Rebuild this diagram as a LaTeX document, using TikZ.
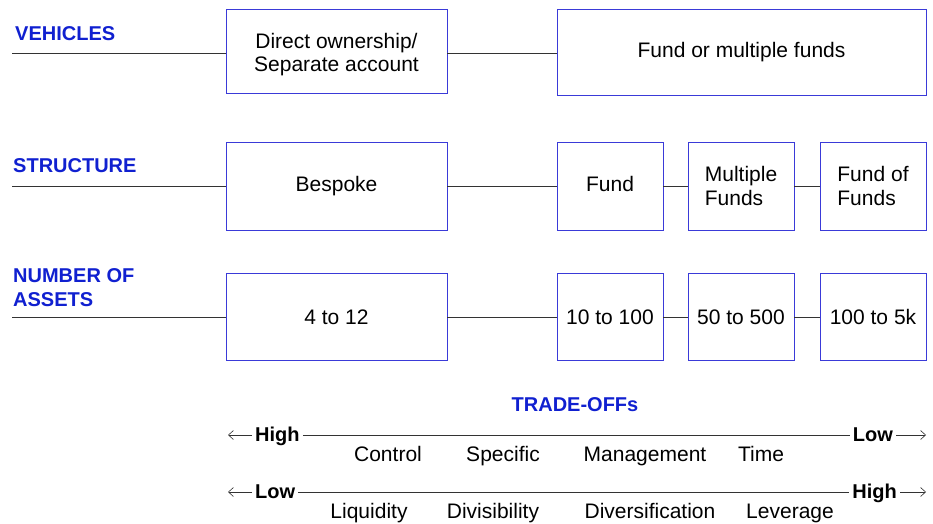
\documentclass[tikz,border=0pt]{standalone}
\usepackage{fontspec}
\usetikzlibrary{arrows.meta}
\setmainfont{Liberation Sans}
\definecolor{headblue}{HTML}{1020D0}
\definecolor{boxblue}{HTML}{3A3AD8}
\definecolor{rulegray}{HTML}{333333}
\begin{document}
\begin{tikzpicture}
[
	x=1pt, y=-1pt,
	every node/.style={font=\fontsize{21}{24}\selectfont},
	rowlabel/.style={anchor=west,inner sep=0pt,align=left,text=headblue,font=\fontsize{20}{24}\selectfont\bfseries},
	box/.style={draw=boxblue,line width=0.9pt,inner sep=0pt},
	smallbox/.style={box,minimum width=106pt,minimum height=88pt},
	rule/.style={rulegray,line width=0.8pt},
	pointer/.style={rulegray,line width=0.6pt,-{Straight Barb[length=5pt,width=9pt]}},
	ends/.style={inner sep=3pt,font=\fontsize{20}{24}\selectfont\bfseries},
	word/.style={anchor=base,inner sep=0pt}
]

	\useasboundingbox (0,0) rectangle (933,523);

	% vehicles
	\node[rowlabel] at (15,34) (vehicles) {VEHICLES};
	\coordinate (vehicles-l) at (12,53);
	\node[box,minimum width=221pt,minimum height=84pt] at (336.5,51) (direct) {\raisebox{-4pt}[\height][\depth]{\shortstack{Direct ownership/\\[1pt]Separate account}}};
	\node[box,minimum width=369pt,minimum height=86pt] at (741.5,52) (funds) {Fund or multiple funds};

	\draw[rule] (vehicles-l) -- (vehicles-l -| direct.west);
	\draw[rule] (direct.east |- vehicles-l) -- (vehicles-l -| funds.west);

	% structure
	\node[rowlabel] at (13,166) (structure) {STRUCTURE};
	\coordinate (structure-l) at (12,186);
	\node[box,minimum width=221pt,minimum height=88pt] at (336.5,186) (bespoke) {Bespoke\vphantom{g}};
	\node[smallbox] at (610,186) (fund) {Fund\vphantom{g}};
	\node[smallbox,align=left] at (741,186) (multi) {Multiple\\Funds};
	\node[smallbox,align=left] at (873,186) (fof) {Fund of\\Funds};

	\draw[rule] (structure-l) -- (bespoke);
	\draw[rule] (bespoke) -- (fund);
	\draw[rule] (fund) -- (multi);
	\draw[rule] (multi) -- (fof);

	% number of assets
	\node[rowlabel] at (13,288) (assets) {NUMBER OF\\ASSETS};
	\coordinate (assets-l) at (12,317);
	\node[box,minimum width=221pt,minimum height=87pt] at (336.5,317) (few) {4 to 12};
	\node[smallbox,minimum height=87pt] at (610,317) (tens) {10 to 100};
	\node[smallbox,minimum height=87pt] at (741,317) (hundreds) {50 to 500};
	\node[smallbox,minimum height=87pt] at (873,317) (thousands) {100 to 5k};

	\draw[rule] (assets-l) -- (few);
	\draw[rule] (few) -- (tens);
	\draw[rule] (tens) -- (hundreds);
	\draw[rule] (hundreds) -- (thousands);

	% trade-offs
	\node[text=headblue,font=\fontsize{20}{24}\selectfont\bfseries] at (575,405) (tradeoffs) {TRADE-OFFs};

	\coordinate (top-l) at (228,435);
	\coordinate (top-r) at (926,435);
	\node[ends,anchor=base west] at (252,441) (top-high) {High};
	\node[ends,anchor=base east] at (896,441) (top-low) {Low};
	\draw[pointer] (top-high.west |- top-l) -- (top-l);
	\draw[rule] (top-high.east |- top-l) -- (top-low.west |- top-l);
	\draw[pointer] (top-low.east |- top-r) -- (top-r);

	\node[word] at (388,461) (control) {Control};
	\node[word] at (503,461) (specific) {Specific};
	\node[word] at (645,461) (management) {Management};
	\node[word] at (761,461) (time) {Time};

	\coordinate (bottom-l) at (228,492);
	\coordinate (bottom-r) at (926,492);
	\node[ends,anchor=base west] at (252,498) (bottom-low) {Low};
	\node[ends,anchor=base east] at (900,498) (bottom-high) {High};
	\draw[pointer] (bottom-low.west |- bottom-l) -- (bottom-l);
	\draw[rule] (bottom-low.east |- bottom-l) -- (bottom-high.west |- bottom-l);
	\draw[pointer] (bottom-high.east |- bottom-r) -- (bottom-r);

	\node[word] at (369,518) (liquidity) {Liquidity};
	\node[word] at (493,518) (divisibility) {Divisibility};
	\node[word] at (650,518) (diversification) {Diversification};
	\node[word] at (790,518) (leverage) {Leverage};

\end{tikzpicture}
\end{document}
